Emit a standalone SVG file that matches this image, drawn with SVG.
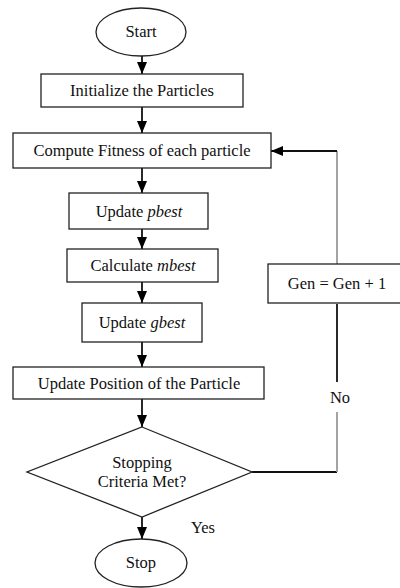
<svg xmlns="http://www.w3.org/2000/svg" width="400" height="588" viewBox="0 0 400 588">
<defs>
<style>
.n{fill:#fff;stroke:#222;stroke-width:1.3}
.t{font-family:'Liberation Serif','Times New Roman',Times,serif;font-size:16.5px;fill:#111;text-anchor:middle}
.c{fill:none;stroke:#111;stroke-width:1.8}
.g{fill:none;stroke:#999;stroke-width:1.8}
</style>
<marker id="ah" viewBox="0 0 12 10" refX="12" refY="5" markerWidth="12" markerHeight="10" markerUnits="userSpaceOnUse" orient="auto">
<path d="M0,0 L12,5 L0,10 Z" fill="#000"/>
</marker>
</defs>
<rect width="400" height="588" fill="#fff"/>
<g id="connectors">
<line class="c" x1="142" y1="56" x2="142" y2="74" marker-end="url(#ah)"/>
<line class="c" x1="142" y1="107" x2="142" y2="133" marker-end="url(#ah)"/>
<line class="c" x1="142" y1="168" x2="142" y2="193" marker-end="url(#ah)"/>
<line class="c" x1="142" y1="229" x2="142" y2="249" marker-end="url(#ah)"/>
<line class="c" x1="142" y1="282" x2="142" y2="303" marker-end="url(#ah)"/>
<line class="c" x1="142" y1="342" x2="142" y2="367" marker-end="url(#ah)"/>
<line class="c" x1="142" y1="399" x2="142" y2="427" marker-end="url(#ah)"/>
<line class="c" x1="142" y1="517" x2="142" y2="539" marker-end="url(#ah)"/>
<line class="c" x1="252" y1="472" x2="337" y2="472"/>
<line class="g" x1="337" y1="472" x2="337" y2="412"/>
<line class="c" x1="337" y1="382" x2="337" y2="304"/>
<line class="g" x1="337" y1="264" x2="337" y2="151"/>
<line class="c" x1="337" y1="151" x2="271" y2="151" marker-end="url(#ah)"/>
<text class="t" x="340" y="403">No</text>
<text class="t" x="203" y="533">Yes</text>
</g>
<g id="start"><ellipse class="n" cx="141" cy="32" rx="45" ry="24"/><text class="t" x="141" y="37">Start</text></g>
<g id="init"><rect class="n" x="41" y="74" width="202" height="33"/><text class="t" x="142" y="96">Initialize the Particles</text></g>
<g id="fitness"><rect class="n" x="13" y="133" width="258" height="35"/><text class="t" x="142" y="156">Compute Fitness of each particle</text></g>
<g id="pbest"><rect class="n" x="69" y="193" width="139" height="36"/><text class="t" x="139" y="217">Update <tspan font-style="italic">pbest</tspan></text></g>
<g id="mbest"><rect class="n" x="67" y="249" width="151" height="33"/><text class="t" x="143" y="271">Calculate <tspan font-style="italic">mbest</tspan></text></g>
<g id="gbest"><rect class="n" x="82" y="303" width="120" height="39"/><text class="t" x="142" y="328">Update <tspan font-style="italic">gbest</tspan></text></g>
<g id="position"><rect class="n" x="13" y="367" width="251" height="32"/><text class="t" x="139" y="389">Update Position of the Particle</text></g>
<g id="decision"><polygon class="n" points="142,427 252,472 142,517 27,472"/><text class="t" x="142" y="468">Stopping</text><text class="t" x="142" y="487">Criteria Met?</text></g>
<g id="gen"><rect class="n" x="268" y="264" width="138" height="39"/><text class="t" x="337" y="289">Gen = Gen + 1</text></g>
<g id="stop"><ellipse class="n" cx="141" cy="563" rx="46" ry="24"/><text class="t" x="141" y="568">Stop</text></g>
</svg>
